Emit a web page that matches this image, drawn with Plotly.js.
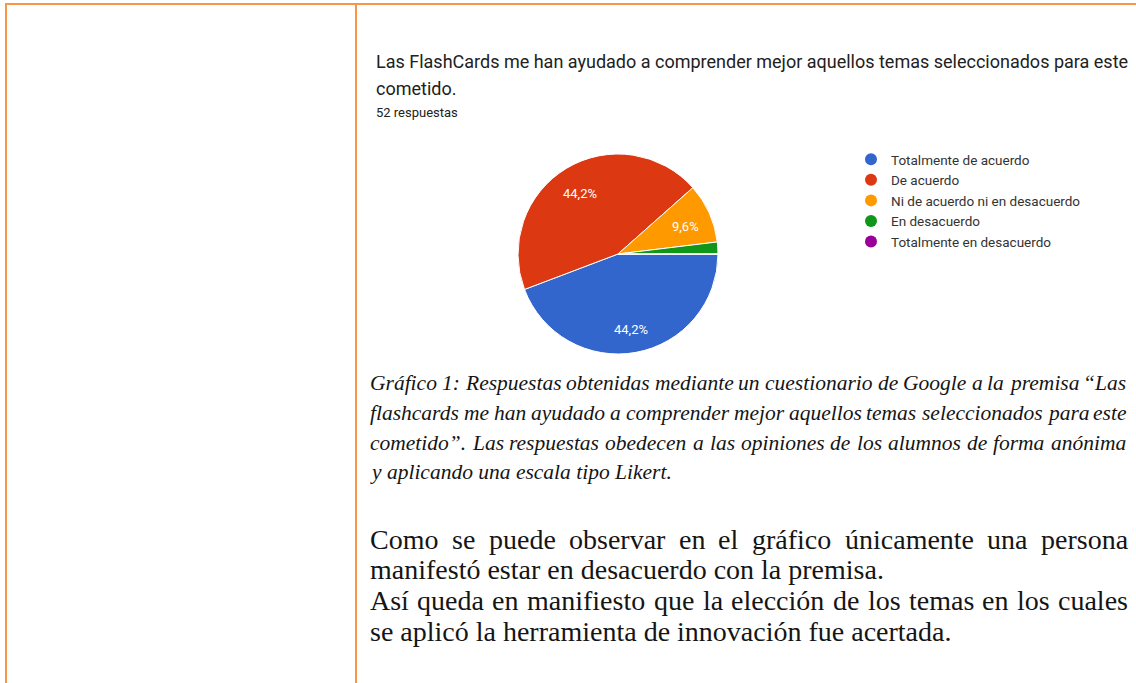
<!DOCTYPE html>
<html>
<head>
<meta charset="utf-8">
<script src="https://cdn.plot.ly/plotly-3.0.1.min.js"></script>
<style>
html,body{margin:0;padding:0;background:#fff;overflow:hidden}
#chart{width:1136px;height:683px}
</style>
</head>
<body>
<div id="chart"></div>
<script>
// ---- data ----
const categories = ['Totalmente de acuerdo', 'De acuerdo', 'Ni de acuerdo ni en desacuerdo', 'En desacuerdo', 'Totalmente en desacuerdo'];
const responses = [23, 23, 5, 1, 0];
const sliceColors = ['#3366cc', '#dc3912', '#ff9900', '#109618', '#990099'];
const showSliceLabel = [true, true, true, false, false];
const titleLines = ['Las FlashCards me han ayudado a comprender mejor aquellos temas seleccionados para este', 'cometido.'];
const subtitle = '52 respuestas';
const captionLines = [
  'Gráfico 1: Respuestas obtenidas mediante un cuestionario de Google a la premisa \u201CLas',
  'flashcards me han ayudado a comprender mejor aquellos temas seleccionados para este',
  'cometido\u201D. Las respuestas obedecen a las opiniones de los alumnos de forma anónima',
  'y aplicando una escala tipo Likert.'
];
const paragraphLines = [
  'Como se puede observar en el gráfico únicamente una persona',
  'manifestó estar en desacuerdo con la premisa.',
  'Así queda en manifiesto que la elección de los temas en los cuales',
  'se aplicó la herramienta de innovación fue acertada.'
];
const captionJustify = [true, true, true, false];
const paragraphJustify = [true, false, true, false];

// ---- layout helpers ----
const W = 1136, H = 683;
const px = x => x / W;
const py = y => 1 - y / H;
const ctx = document.createElement('canvas').getContext('2d');
const annotations = [];

function addLine(text, x0, x1, yc, font, justify) {
  if (!justify) {
    annotations.push({text: text, xref: 'paper', yref: 'paper', x: px(x0), y: py(yc),
      xanchor: 'left', yanchor: 'middle', showarrow: false, borderpad: 0, borderwidth: 0, font: font});
    return;
  }
  const words = text.split(' ');
  ctx.font = (font.style || 'normal') + ' ' + font.size + 'px "' + font.family + '"';
  const widths = words.map(w => ctx.measureText(w).width);
  const total = widths.reduce((a, b) => a + b, 0);
  const gap = (x1 - x0 - total) / (words.length - 1);
  let x = x0;
  words.forEach((w, i) => {
    annotations.push({text: w, xref: 'paper', yref: 'paper', x: px(x), y: py(yc),
      xanchor: 'left', yanchor: 'middle', showarrow: false, borderpad: 0, borderwidth: 0, font: font});
    x += widths[i] + gap;
  });
}

const titleFont = {family: 'Roboto', size: 18, color: '#212121'};
addLine(titleLines[0], 376, 1127, 61, titleFont, false);
addLine(titleLines[1], 376, 1127, 88, titleFont, false);
addLine(subtitle, 376, 1127, 112, {family: 'Roboto', size: 13, color: '#212121'}, false);

const capFont = {family: 'Liberation Serif', size: 21.5, color: '#151515', style: 'italic'};
const capY = [383, 413, 443, 472];
captionLines.forEach((t, i) => addLine(t, 370, 1126, capY[i], capFont, captionJustify[i]));

const parFont = {family: 'Liberation Serif', size: 28, color: '#151515'};
const parY = [539, 569, 600, 631];
paragraphLines.forEach((t, i) => addLine(t, 370, 1128, parY[i], parFont, paragraphJustify[i]));

// ---- pie geometry (layout) ----
const pieCx = 618, pieCy = 254, pieR = 100, labelRadius = 0.74, labelDy = 3;

// slice labels placed at each slice's mid-angle, computed from the data
const totalResponses = responses.reduce((a, b) => a + b, 0);
let cum = 0;
responses.forEach((v, i) => {
  const start = 90 + cum / totalResponses * 360;   // degrees clockwise from 12 o'clock
  cum += v;
  const end = 90 + cum / totalResponses * 360;
  if (!showSliceLabel[i]) return;
  const mid = (start + end) / 2 * Math.PI / 180;
  const lx = pieCx + Math.sin(mid) * pieR * labelRadius;
  const ly = pieCy - Math.cos(mid) * pieR * labelRadius + labelDy;
  const pct = (v / totalResponses * 100).toFixed(1).replace('.', ',') + '%';
  annotations.push({text: pct, xref: 'paper', yref: 'paper', x: px(lx), y: py(ly),
    xanchor: 'center', yanchor: 'middle', showarrow: false, borderpad: 0, borderwidth: 0,
    font: {family: 'Roboto', size: 13, color: '#ffffff'}});
});

// ---- traces ----
const pieTrace = {
  type: 'pie',
  labels: categories,
  values: responses,
  sort: false,
  direction: 'clockwise',
  rotation: 90,
  domain: {x: [px(pieCx - pieR), px(pieCx + pieR)], y: [py(pieCy + pieR), py(pieCy - pieR)]},
  marker: {colors: sliceColors, line: {color: '#ffffff', width: 1}},
  textinfo: 'none',
  hoverinfo: 'label+percent',
  showlegend: false
};

const legendTraces = categories.map((c, i) => ({
  type: 'scatter',
  mode: 'markers',
  x: [null], y: [null],
  name: c,
  legendgroup: 'g' + i,
  marker: {color: sliceColors[i], size: 12, symbol: 'circle'},
  showlegend: true,
  hoverinfo: 'skip'
}));

const layout = {
  width: W, height: H,
  margin: {l: 0, r: 0, t: 0, b: 0},
  paper_bgcolor: '#ffffff',
  plot_bgcolor: 'rgba(0,0,0,0)',
  separators: ',.',
  showlegend: true,
  legend: {
    x: px(851), xanchor: 'left', y: py(144), yanchor: 'top',
    font: {family: 'Roboto', size: 13.5, color: '#333333'},
    tracegroupgap: 2, traceorder: 'normal', bgcolor: 'rgba(0,0,0,0)',
    itemclick: false, itemdoubleclick: false
  },
  xaxis: {visible: false, range: [0, 1], fixedrange: true},
  yaxis: {visible: false, range: [0, 1], fixedrange: true},
  shapes: [
    {type: 'line', xref: 'paper', yref: 'paper', x0: px(5), x1: 1, y0: py(4), y1: py(4), line: {color: '#f79646', width: 2}},
    {type: 'line', xref: 'paper', yref: 'paper', x0: px(6), x1: px(6), y0: py(4), y1: 0, line: {color: '#f79646', width: 2}},
    {type: 'line', xref: 'paper', yref: 'paper', x0: px(356), x1: px(356), y0: py(4), y1: 0, line: {color: '#f79646', width: 2}}
  ],
  annotations: annotations
};

Plotly.newPlot('chart', [pieTrace].concat(legendTraces), layout, {displayModeBar: false, staticPlot: true});
</script>
</body>
</html>
